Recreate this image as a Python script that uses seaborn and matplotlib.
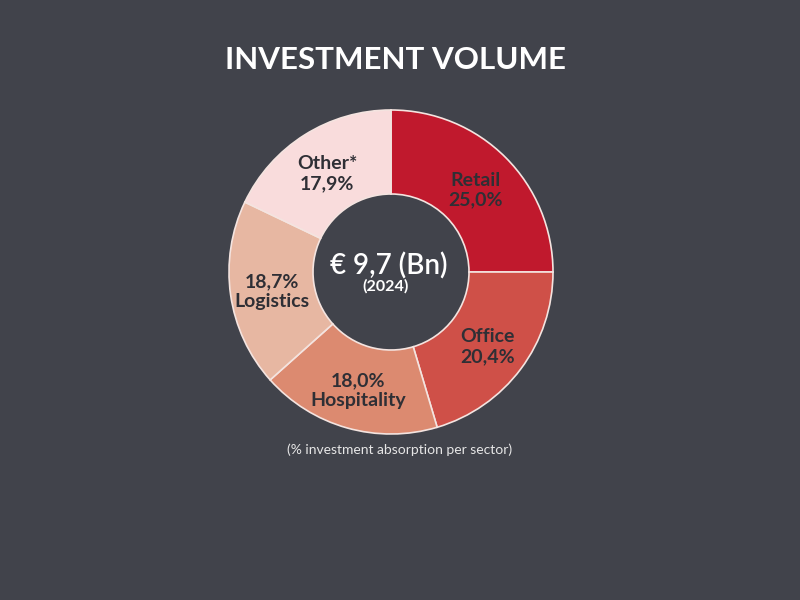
import matplotlib
matplotlib.use('Agg')
import matplotlib.pyplot as plt
import seaborn as sns
import numpy as np

# data
sectors = ['Retail', 'Office', 'Hospitality', 'Logistics', 'Other*']
shares = [25.0, 20.4, 18.0, 18.7, 17.9]
pct_first = [False, False, True, True, False]  # label order inside the slice
slice_colors = ['#c0192d', '#cf5048', '#dc8a70', '#e7b7a2', '#f9dcdc']

total_label = '€ 9,7 (Bn)'
year_label = '(2024)'
title = 'INVESTMENT VOLUME'
footnote = '(% investment absorption per sector)'

bg = '#41434b'
sns.set_theme(style='white', rc={'figure.facecolor': bg, 'axes.facecolor': bg})
plt.rcParams['font.family'] = ['Lato', 'DejaVu Sans']

fig = plt.figure(figsize=(8, 6), dpi=100)
ax = fig.add_axes([0, 0, 1, 1])

cx, cy, r_out, r_in = 391, 328, 162, 78
wedges, _ = ax.pie(shares, colors=slice_colors, startangle=90, counterclock=False,
                   center=(cx, cy), radius=r_out, frame=True,
                   wedgeprops=dict(width=r_out - r_in, edgecolor='#f4e4e0', linewidth=1.2))
ax.set_xlim(0, 800)
ax.set_ylim(0, 600)
ax.set_aspect('equal')
ax.axis('off')

# slice labels at the middle of each ring segment
r_lab = (r_out + r_in) / 2
for w, name, val, pf in zip(wedges, sectors, shares, pct_first):
    ang = np.deg2rad((w.theta1 + w.theta2) / 2)
    pct = f'{val:.1f}%'.replace('.', ',')
    txt = f'{pct}\n{name}' if pf else f'{name}\n{pct}'
    ax.text(cx + r_lab * np.cos(ang), cy + r_lab * np.sin(ang) - 3, txt,
            ha='center', va='center', fontsize=14, fontweight='bold',
            color='#2f2f35', linespacing=1.2)

ax.text(cx - 2, cy + 6, total_label, ha='center', va='center', fontsize=20,
        color='white', fontweight='semibold')
ax.text(cx - 5, cy - 14, year_label, ha='center', va='center', fontsize=11.5,
        color='white', fontweight='bold')

fig.text(0.494, 0.900, title, ha='center', va='center', fontsize=22.5,
         color='white', fontweight='bold')
fig.text(0.499, 0.250, footnote, ha='center', va='center', fontsize=10,
         color='#e6e6e6')

fig.savefig('out.png', dpi=100, facecolor=bg)
